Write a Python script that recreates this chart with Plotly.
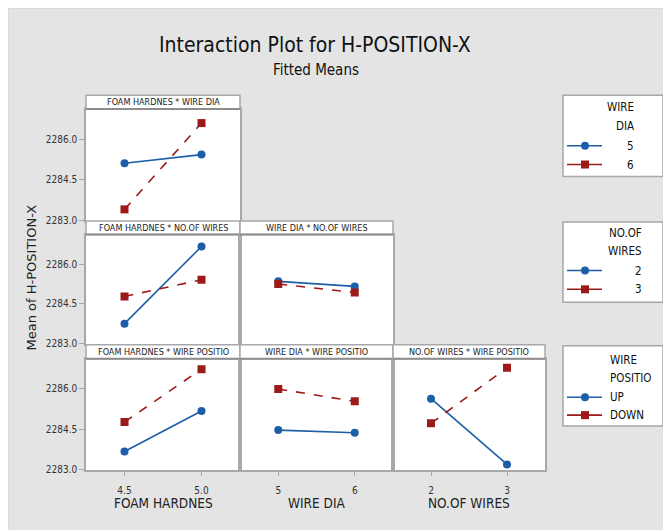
import plotly.graph_objects as go

W, H = 671, 530

# ---------------- data ----------------
foam_levels = [4.5, 5.0]
dia_levels = [5, 6]
wires_levels = [2, 3]

foam_dia_5 = [2285.11, 2285.43]
foam_dia_6 = [2283.40, 2286.60]
foam_wires_2 = [2283.75, 2286.67]
foam_wires_3 = [2284.78, 2285.41]
dia_wires_2 = [2285.35, 2285.16]
dia_wires_3 = [2285.25, 2284.93]
foam_pos_up = [2283.66, 2285.17]
foam_pos_down = [2284.76, 2286.73]
dia_pos_up = [2284.46, 2284.36]
dia_pos_down = [2285.99, 2285.53]
wires_pos_up = [2285.63, 2283.18]
wires_pos_down = [2284.71, 2286.78]

y_ticks = [2283.0, 2284.5, 2286.0]
y_tick_text = ["2283.0", "2284.5", "2286.0"]
foam_tick_text = ["4.5", "5.0"]
dia_tick_text = ["5", "6"]
wires_tick_text = ["2", "3"]

panel_titles = {
    1: "FOAM HARDNES * WIRE DIA",
    2: "FOAM HARDNES * NO.OF WIRES",
    3: "WIRE DIA * NO.OF WIRES",
    4: "FOAM HARDNES * WIRE POSITIO",
    5: "WIRE DIA * WIRE POSITIO",
    6: "NO.OF WIRES * WIRE POSITIO",
}
x_titles = ["FOAM HARDNES", "WIRE DIA", "NO.OF WIRES"]
y_title = "Mean of H-POSITION-X"

BLUE = "#1c5ea8"
RED = "#9c1a1a"
GRID = "#a8a8a8"
FONT = "Liberation Sans Narrow, Arial Narrow, DejaVu Sans Condensed, Liberation Sans, sans-serif"

# page offset (body margin) of the figure inside the window
OFF = 8

def px(x):
    return (x - OFF) / W

def py(y):
    return 1 - (y - OFF) / H

cols = [(86, 240), (240, 393), (393, 545)]
rows = [(96, 110, 223), (223, 236.7, 347.5), (348, 362, 474.5)]  # header top, data top, data bottom

panels = {
    1: (0, 0, foam_levels, foam_dia_5, foam_dia_6),
    2: (1, 0, foam_levels, foam_wires_2, foam_wires_3),
    3: (1, 1, dia_levels, dia_wires_2, dia_wires_3),
    4: (2, 0, foam_levels, foam_pos_up, foam_pos_down),
    5: (2, 1, dia_levels, dia_pos_up, dia_pos_down),
    6: (2, 2, wires_levels, wires_pos_up, wires_pos_down),
}
col_ticktext = [foam_tick_text, dia_tick_text, wires_tick_text]

fig = go.Figure()
layout = dict(
    width=W, height=H,
    margin=dict(l=0, r=0, t=0, b=0),
    paper_bgcolor="#e4e4e4",
    plot_bgcolor="white",
    showlegend=False,
    font=dict(family=FONT, color="#222"),
)
shapes = []
annotations = []

for i, (r, c, lev, s1, s2) in panels.items():
    sfx = "" if i == 1 else str(i)
    xa, ya = "x" + sfx, "y" + sfx
    fig.add_trace(go.Scatter(
        x=lev, y=s1, xaxis=xa, yaxis=ya, mode="lines+markers",
        line=dict(color=BLUE, width=1.6),
        marker=dict(symbol="circle", size=8, color=BLUE)))
    fig.add_trace(go.Scatter(
        x=lev, y=s2, xaxis=xa, yaxis=ya, mode="lines+markers",
        line=dict(color=RED, width=1.6, dash="dash"),
        marker=dict(symbol="square", size=8, color=RED)))
    x0, x1 = cols[c]
    ht, dt, db = rows[r]
    d = lev[1] - lev[0]
    layout["xaxis" + sfx] = dict(
        domain=[px(x0), px(x1)], anchor=ya,
        range=[lev[0] - 0.5 * d, lev[1] + 0.5 * d],
        tickvals=lev, ticktext=col_ticktext[c],
        showticklabels=(r == 2), ticks="outside" if r == 2 else "",
        ticklen=4, tickcolor=GRID, tickfont=dict(size=10, color="#333"),
        ticklabelstandoff=6,
        showgrid=False, zeroline=False, showline=True, mirror=True,
        linecolor=GRID, linewidth=1.5)
    layout["yaxis" + sfx] = dict(
        domain=[py(db), py(dt)], anchor=xa,
        range=[2282.97, 2287.12],
        tickvals=y_ticks, ticktext=y_tick_text,
        showticklabels=(c == 0), ticks="outside" if c == 0 else "",
        ticklen=5, tickcolor=GRID, tickfont=dict(size=10, color="#333"),
        showgrid=False, zeroline=False, showline=True, mirror=True,
        linecolor=GRID, linewidth=1.5)
    shapes.append(dict(type="rect", xref="paper", yref="paper",
                       x0=px(x0), x1=px(x1), y0=py(dt), y1=py(ht),
                       fillcolor="white", line=dict(color=GRID, width=1.5)))
    shapes.append(dict(type="line", xref="paper", yref="paper",
                       x0=px(x0), x1=px(x1), y0=py(dt), y1=py(dt),
                       line=dict(color="#8c8c8c", width=2)))
    annotations.append(dict(xref="paper", yref="paper", x=px((x0 + x1) / 2), y=py((ht + dt) / 2),
                            text=panel_titles[i], showarrow=False,
                            font=dict(size=9, color="#222"), xanchor="center", yanchor="middle"))

# thin outline of the page
shapes.append(dict(type="line", xref="paper", yref="paper", x0=0, x1=1, y0=1, y1=1,
                   line=dict(color="#cfcfcf", width=1)))
shapes.append(dict(type="line", xref="paper", yref="paper", x0=0, x1=0, y0=0, y1=1,
                   line=dict(color="#cfcfcf", width=1)))

annotations.append(dict(xref="paper", yref="paper", x=px(315), y=py(45),
                        text="Interaction Plot for H-POSITION-X", showarrow=False,
                        font=dict(size=21, color="#111"), xanchor="center", yanchor="middle"))
annotations.append(dict(xref="paper", yref="paper", x=px(316), y=py(71),
                        text="Fitted Means", showarrow=False,
                        font=dict(size=15, color="#111"), xanchor="center", yanchor="middle"))
for c, t in enumerate(x_titles):
    x0, x1 = cols[c]
    annotations.append(dict(xref="paper", yref="paper", x=px((x0 + x1) / 2), y=py(508),
                            text=t, showarrow=False, font=dict(size=13.5, color="#222"),
                            xanchor="center", yanchor="middle"))
annotations.append(dict(xref="paper", yref="paper", x=px(31), y=py(280),
                        text=y_title, showarrow=False, textangle=-90,
                        font=dict(size=13, color="#222", family="DejaVu Sans"),
                        xanchor="center", yanchor="middle"))

legends = [
    dict(box=(96, 178), title=["WIRE", "DIA"], title_x=636, title_anchor="right",
         title_y=[108, 127], items=["5", "6"], item_y=[147, 166], label_x=636, label_anchor="right"),
    dict(box=(224, 305), title=["NO.OF", "WIRES"], title_x=644, title_anchor="right",
         title_y=[235, 253], items=["2", "3"], item_y=[273, 292], label_x=644, label_anchor="right"),
    dict(box=(349, 430), title=["WIRE", "POSITIO"], title_x=608, title_anchor="left",
         title_y=[363, 382], items=["UP", "DOWN"], item_y=[401, 419], label_x=608, label_anchor="left"),
]
for lg in legends:
    y0, y1 = lg["box"]
    shapes.append(dict(type="rect", xref="paper", yref="paper", x0=px(563), x1=px(663),
                       y0=py(y1), y1=py(y0), fillcolor="white", line=dict(color=GRID, width=1.5)))
    for t, ty in zip(lg["title"], lg["title_y"]):
        annotations.append(dict(xref="paper", yref="paper", x=px(lg["title_x"]), y=py(ty), text=t,
                                showarrow=False, font=dict(size=11.5, color="#111"),
                                xanchor=lg["title_anchor"], yanchor="middle"))
    for k, (lab, iy) in enumerate(zip(lg["items"], lg["item_y"])):
        col = BLUE if k == 0 else RED
        shapes.append(dict(type="line", xref="paper", yref="paper", x0=px(567), x1=px(602),
                           y0=py(iy), y1=py(iy), line=dict(color=col, width=1.6)))
        shapes.append(dict(type="circle" if k == 0 else "rect", xref="paper", yref="paper",
                           xsizemode="pixel", ysizemode="pixel", xanchor=px(585), yanchor=py(iy),
                           x0=-4, x1=4, y0=-4, y1=4, fillcolor=col, line=dict(color=col, width=0)))
        annotations.append(dict(xref="paper", yref="paper", x=px(lg["label_x"]), y=py(iy), text=lab,
                                showarrow=False, font=dict(size=11.5, color="#111"),
                                xanchor=lg["label_anchor"], yanchor="middle"))

layout["shapes"] = shapes
layout["annotations"] = annotations
fig.update_layout(**layout)
fig.write_html("out.html")
